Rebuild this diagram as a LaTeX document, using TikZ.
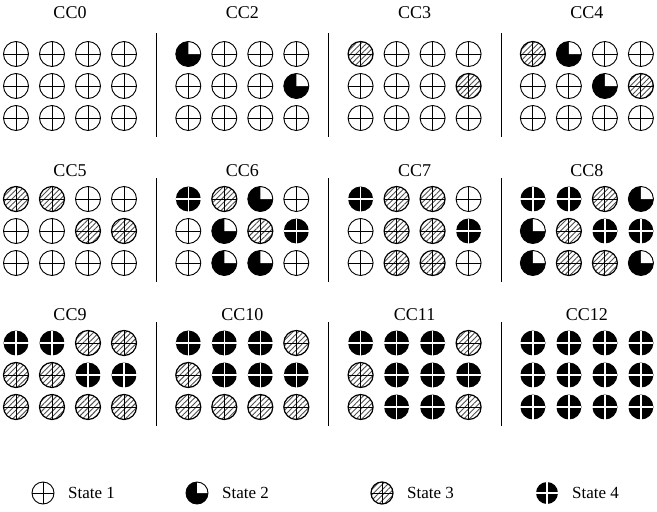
\documentclass[tikz,border=0pt]{standalone}
\usepackage{fontspec}
\setmainfont{Liberation Serif}
\usetikzlibrary{patterns.meta}
\definecolor{hatchgray}{RGB}{80,80,80}
\newcommand{\ccrad}{12.5}

\tikzset{
  cellline/.style={line width=0.9pt},
  st1/.pic={
    \draw[cellline,fill=white] (0,0) circle[radius=\ccrad];
    \draw[cellline] (-\ccrad,0) -- (\ccrad,0) (0,-\ccrad) -- (0,\ccrad);
  },
  st2/.pic={
    \fill[black] (0,0) circle[radius=\ccrad];
    \fill[white] (0,0) -- (\ccrad,0) arc[start angle=0,end angle=-90,radius=\ccrad] -- cycle;
    \draw[cellline] (0,0) circle[radius=\ccrad];
  },
  st3/.pic={
    \fill[white] (0,0) circle[radius=\ccrad];
    \fill[pattern={Lines[angle=45,distance=3.8pt,line width=0.9pt]},pattern color=hatchgray]
      (0,0) circle[radius=\ccrad];
    \draw[line width=1.2pt] (0,0) circle[radius=\ccrad];
    \draw[cellline] (-\ccrad,0) -- (\ccrad,0) (0,-\ccrad) -- (0,\ccrad);
  },
  st4/.pic={
    \fill[black] (0,0) circle[radius=\ccrad];
    \draw[white,line width=1.3pt] (-\ccrad,0) -- (\ccrad,0) (0,-\ccrad) -- (0,\ccrad);
  }
}

\begin{document}
\begin{tikzpicture}[x=1pt,y=-1pt,
    cctitle/.style={font=\fontsize{18}{20}\selectfont,inner sep=0pt},
    legtext/.style={font=\fontsize{17}{20}\selectfont,inner sep=0pt,anchor=west},
    sepline/.style={line width=0.8pt}]
  \useasboundingbox (0,0) rectangle (657,512);
  % panels: name/column/first row y/title y/states row by row
  \foreach \name/\px/\cy/\ty/\grid in {
      CC0/0/54/13/{1,1,1,1,1,1,1,1,1,1,1,1},
      CC2/1/54/13/{2,1,1,1,1,1,1,2,1,1,1,1},
      CC3/2/54/13/{3,1,1,1,1,1,1,3,1,1,1,1},
      CC4/3/54/13/{3,2,1,1,1,1,2,3,1,1,1,1},
      CC5/0/199/170.5/{3,3,1,1,1,1,3,3,1,1,1,1},
      CC6/1/199/170.5/{4,3,2,1,1,2,3,4,1,2,2,1},
      CC7/2/199/170.5/{4,3,3,1,1,3,3,4,1,3,3,1},
      CC8/3/199/170.5/{4,4,3,2,2,3,4,4,2,3,3,2},
      CC9/0/343/314.5/{4,4,3,3,3,3,4,4,3,3,3,3},
      CC10/1/343/314.5/{4,4,4,3,3,4,4,4,3,3,3,3},
      CC11/2/343/314.5/{4,4,4,3,3,4,4,4,3,4,4,3},
      CC12/3/343/314.5/{4,4,4,4,4,4,4,4,4,4,4,4}}{
    \pgfmathsetmacro{\xo}{16+172.3*\px}
    \node[cctitle] (\name) at (\xo+54,\ty) {\name};
    \foreach \s [count=\k from 0] in \grid {
      \pgfmathtruncatemacro{\cc}{mod(\k,4)}
      \pgfmathtruncatemacro{\rr}{\k/4}
      \pic at (\xo+36*\cc,\cy+32*\rr) {st\s};
    }
  }
  % separators
  \foreach \bx in {0,1,2}
    \foreach \cy in {54,199,343}
      \draw[sepline] (156.5+172.3*\bx,\cy-21) -- (156.5+172.3*\bx,\cy+83);
  % legend
  \foreach \s/\lx in {1/43,2/197,3/382,4/547}{
    \pic[scale=0.88] at (\lx,493) {st\s};
    \node[legtext] (leg\s) at (\lx+25,493) {State \s};
  }
\end{tikzpicture}
\end{document}
